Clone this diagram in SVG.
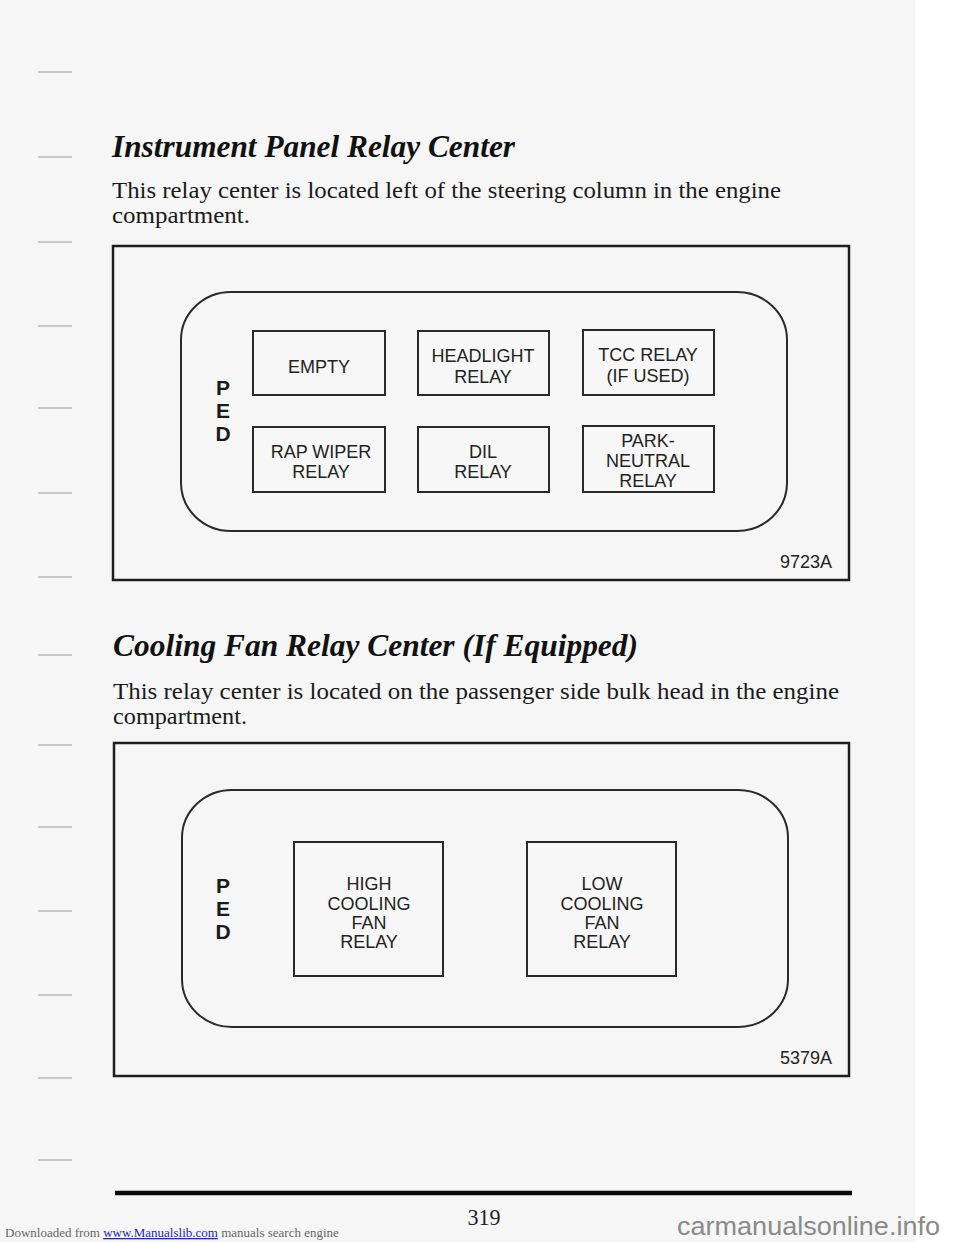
<svg xmlns="http://www.w3.org/2000/svg" width="960" height="1242" viewBox="0 0 960 1242">
<style>
.head{font-family:"Liberation Serif","Times New Roman",serif;font-weight:bold;font-style:italic;font-size:32px;fill:#111}
.body{font-family:"Liberation Serif","Times New Roman",serif;font-size:23px;fill:#1a1a1a}
.frame{fill:none;stroke:#1e1e1e;stroke-width:2.5}
.panel{fill:none;stroke:#2a2a2a;stroke-width:2}
.relay{fill:#f7f7f7;stroke:#2a2a2a;stroke-width:2}
.lbl{font-family:"Liberation Sans",Arial,sans-serif;font-size:18px;fill:#222;text-anchor:middle}
.ped{font-family:"Liberation Sans",Arial,sans-serif;font-size:21px;font-weight:bold;fill:#1a1a1a;text-anchor:middle}
.code{font-family:"Liberation Sans",Arial,sans-serif;font-size:18px;fill:#222;text-anchor:end}
.tick{stroke:#b8b8b8;stroke-width:1.3}
</style>
<rect x="0" y="0" width="960" height="1242" fill="#ffffff"/>
<rect x="0" y="0" width="915" height="1242" fill="#f6f6f6"/>

<g id="margin-ticks">
<line class="tick" x1="38" y1="72" x2="72" y2="72"/>
<line class="tick" x1="38" y1="157" x2="72" y2="157"/>
<line class="tick" x1="38" y1="242" x2="72" y2="242"/>
<line class="tick" x1="38" y1="326" x2="72" y2="326"/>
<line class="tick" x1="38" y1="408" x2="72" y2="408"/>
<line class="tick" x1="38" y1="493" x2="72" y2="493"/>
<line class="tick" x1="38" y1="577" x2="72" y2="577"/>
<line class="tick" x1="38" y1="655" x2="72" y2="655"/>
<line class="tick" x1="38" y1="745" x2="72" y2="745"/>
<line class="tick" x1="38" y1="827" x2="72" y2="827"/>
<line class="tick" x1="38" y1="911" x2="72" y2="911"/>
<line class="tick" x1="38" y1="995" x2="72" y2="995"/>
<line class="tick" x1="38" y1="1078" x2="72" y2="1078"/>
<line class="tick" x1="38" y1="1160" x2="72" y2="1160"/>
</g>

<g id="section1-text">
<text class="head" x="112" y="157" textLength="403" lengthAdjust="spacingAndGlyphs">Instrument Panel Relay Center</text>
<text class="body" x="112" y="198" textLength="669" lengthAdjust="spacingAndGlyphs">This relay center is located left of the steering column in the engine</text>
<text class="body" x="112" y="223" textLength="138" lengthAdjust="spacingAndGlyphs">compartment.</text>
</g>

<g id="diagram1">
<rect class="frame" x="113" y="246" width="736" height="334"/>
<rect class="panel" x="181" y="292" width="606" height="239" rx="50" ry="48"/>
<g id="ped1">
<text class="ped" x="223" y="395">P</text>
<text class="ped" x="223" y="418">E</text>
<text class="ped" x="223" y="441">D</text>
</g>
<g id="empty">
<rect class="relay" x="253" y="331" width="132" height="64"/>
<text class="lbl" x="319" y="373">EMPTY</text>
</g>
<g id="headlight-relay">
<rect class="relay" x="418" y="331" width="131" height="64"/>
<text class="lbl" x="483" y="362">HEADLIGHT</text>
<text class="lbl" x="483" y="383">RELAY</text>
</g>
<g id="tcc-relay">
<rect class="relay" x="583" y="330" width="131" height="65"/>
<text class="lbl" x="648" y="361">TCC RELAY</text>
<text class="lbl" x="648" y="382">(IF USED)</text>
</g>
<g id="rap-wiper-relay">
<rect class="relay" x="253" y="427" width="132" height="65"/>
<text class="lbl" x="321" y="458">RAP WIPER</text>
<text class="lbl" x="321" y="478">RELAY</text>
</g>
<g id="dil-relay">
<rect class="relay" x="418" y="427" width="131" height="65"/>
<text class="lbl" x="483" y="458">DIL</text>
<text class="lbl" x="483" y="478">RELAY</text>
</g>
<g id="park-neutral-relay">
<rect class="relay" x="583" y="426" width="131" height="66"/>
<text class="lbl" x="648" y="447">PARK-</text>
<text class="lbl" x="648" y="467">NEUTRAL</text>
<text class="lbl" x="648" y="487">RELAY</text>
</g>
<text class="code" x="832" y="568">9723A</text>
</g>

<g id="section2-text">
<text class="head" x="113" y="656" textLength="525" lengthAdjust="spacingAndGlyphs">Cooling Fan Relay Center (If Equipped)</text>
<text class="body" x="113" y="699" textLength="726" lengthAdjust="spacingAndGlyphs">This relay center is located on the passenger side bulk head in the engine</text>
<text class="body" x="113" y="724" textLength="134" lengthAdjust="spacingAndGlyphs">compartment.</text>
</g>

<g id="diagram2">
<rect class="frame" x="114" y="743" width="735" height="333"/>
<rect class="panel" x="182" y="790" width="606" height="237" rx="50" ry="48"/>
<g id="ped2">
<text class="ped" x="223" y="893">P</text>
<text class="ped" x="223" y="916">E</text>
<text class="ped" x="223" y="939">D</text>
</g>
<g id="high-cooling-fan-relay">
<rect class="relay" x="294" y="842" width="149" height="134"/>
<text class="lbl" x="369" y="890">HIGH</text>
<text class="lbl" x="369" y="910">COOLING</text>
<text class="lbl" x="369" y="929">FAN</text>
<text class="lbl" x="369" y="948">RELAY</text>
</g>
<g id="low-cooling-fan-relay">
<rect class="relay" x="527" y="842" width="149" height="134"/>
<text class="lbl" x="602" y="890">LOW</text>
<text class="lbl" x="602" y="910">COOLING</text>
<text class="lbl" x="602" y="929">FAN</text>
<text class="lbl" x="602" y="948">RELAY</text>
</g>
<text class="code" x="832" y="1064">5379A</text>
</g>

<g id="connectors"></g>

<g id="footer">
<line x1="115" y1="1193" x2="852" y2="1193" stroke="#0a0a0a" stroke-width="4.5"/>
<text x="484" y="1225" font-family="Liberation Serif, Times New Roman, serif" font-size="24" fill="#222" text-anchor="middle" textLength="33" lengthAdjust="spacingAndGlyphs">319</text>
<text x="5" y="1237" font-family="Liberation Serif, Times New Roman, serif" font-size="13" fill="#666">Downloaded from <tspan fill="#2323d0" text-decoration="underline">www.Manualslib.com</tspan>  manuals search engine</text>
<text x="677" y="1235" font-family="Liberation Sans, Arial, sans-serif" font-size="26" fill="#8a8a8a" textLength="263" lengthAdjust="spacingAndGlyphs">carmanualsonline.info</text>
</g>
</svg>
